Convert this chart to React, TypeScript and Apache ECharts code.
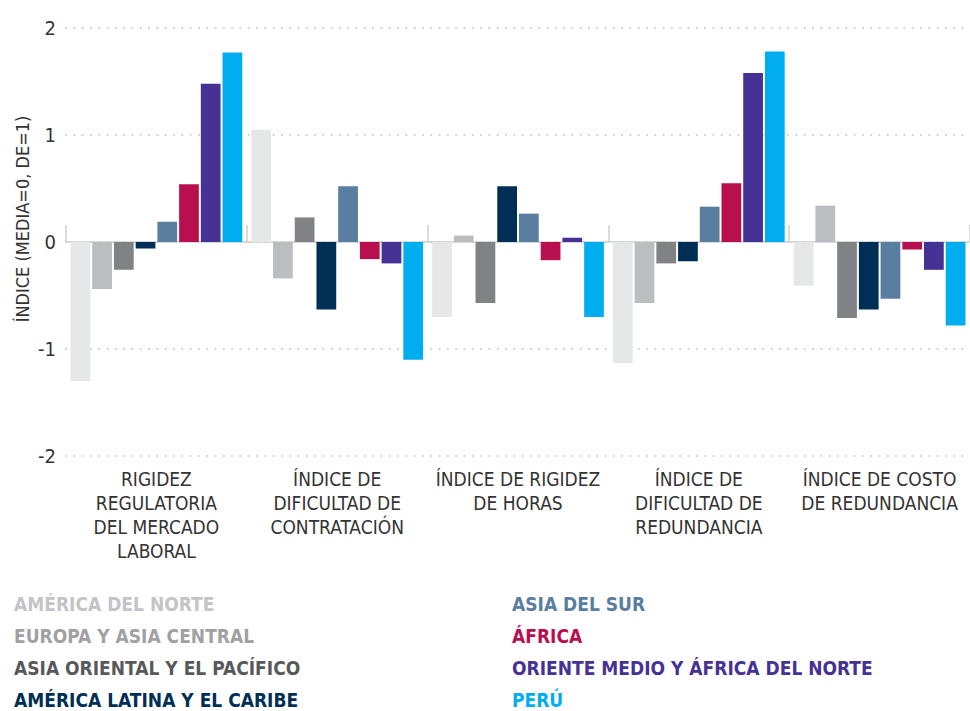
import React, { useEffect, useRef } from "react";
import * as echarts from "echarts";

const categories = [
  "RIGIDEZ\nREGULATORIA\nDEL MERCADO\nLABORAL",
  "ÍNDICE DE\nDIFICULTAD DE\nCONTRATACIÓN",
  "ÍNDICE DE RIGIDEZ\nDE HORAS",
  "ÍNDICE DE\nDIFICULTAD DE\nREDUNDANCIA",
  "ÍNDICE DE COSTO\nDE REDUNDANCIA",
];

const regions = [
  "AMÉRICA DEL NORTE",
  "EUROPA Y ASIA CENTRAL",
  "ASIA ORIENTAL Y EL PACÍFICO",
  "AMÉRICA LATINA Y EL CARIBE",
  "ASIA DEL SUR",
  "ÁFRICA",
  "ORIENTE MEDIO Y ÁFRICA DEL NORTE",
  "PERÚ",
];

const barColors = ["#e6e7e8", "#bcbdc0", "#808285", "#002f56", "#5a7ea0", "#b8104f", "#463294", "#00aeef"];
const legendColors = ["#c3c4c6", "#a0a1a3", "#58595b", "#002f56", "#5a7ea0", "#b8104f", "#463294", "#00aeef"];

const americaDelNorte = [-1.3, 1.05, -0.7, -1.13, -0.41];
const europaAsiaCentral = [-0.44, -0.34, 0.06, -0.57, 0.34];
const asiaOrientalPacifico = [-0.26, 0.23, -0.57, -0.2, -0.71];
const americaLatinaCaribe = [-0.06, -0.63, 0.52, -0.18, -0.63];
const asiaDelSur = [0.19, 0.52, 0.265, 0.33, -0.53];
const africa = [0.54, -0.16, -0.17, 0.55, -0.07];
const orienteMedioAfricaNorte = [1.48, -0.2, 0.04, 1.58, -0.26];
const peru = [1.77, -1.1, -0.7, 1.78, -0.78];

const seriesValues = [
  americaDelNorte,
  europaAsiaCentral,
  asiaOrientalPacifico,
  americaLatinaCaribe,
  asiaDelSur,
  africa,
  orienteMedioAfricaNorte,
  peru,
];

const yTicks = { min: -2, max: 2, interval: 1 };

const NARROW = "'DejaVu Sans Condensed', 'Liberation Sans Narrow', sans-serif";

export default function App() {
  const ref = useRef<HTMLDivElement>(null);

  useEffect(() => {
    document.body.style.margin = "0";
    if (!ref.current) return;
    const chart = echarts.init(ref.current, undefined, { renderer: "svg" });

    const legendItem = (i: number) => ({
      name: regions[i],
      textStyle: { color: legendColors[i] },
    });

    const legendCommon = {
      orient: "vertical" as const,
      top: 594,
      height: 130,
      itemWidth: 0,
      itemHeight: 0,
      itemGap: 12,
      padding: 0,
      selectedMode: false,
      textStyle: {
        fontFamily: NARROW,
        fontSize: 19,
        fontWeight: "bold",
        lineHeight: 20,
      },
    };

    chart.setOption({
      animation: false,
      backgroundColor: "#ffffff",
      grid: { left: 66, right: -8, top: 28, bottom: 255, containLabel: false },
      legend: [
        { ...legendCommon, left: 9, data: [0, 1, 2, 3].map(legendItem) },
        { ...legendCommon, left: 507, data: [4, 5, 6, 7].map(legendItem) },
      ],
      graphic: [
        {
          type: "text",
          x: 22,
          y: 219,
          rotation: Math.PI / 2,
          style: {
            text: "ÍNDICE (MEDIA=0, DE=1)",
            fontFamily: NARROW,
            fontSize: 18,
            fill: "#333333",
            textAlign: "center",
            textVerticalAlign: "middle",
          },
        },
      ],
      xAxis: [
        {
          type: "category",
          data: categories,
          position: "bottom",
          axisLine: { show: false, onZero: false },
          axisTick: { show: false },
          axisLabel: {
            interval: 0,
            margin: 11,
            fontFamily: NARROW,
            fontSize: 19,
            lineHeight: 24,
            color: "#333333",
            align: "center",
          },
        },
        {
          type: "category",
          data: categories,
          position: "bottom",
          axisLine: { show: true, onZero: true, lineStyle: { color: "#cdced0", width: 1.5 } },
          axisTick: { show: true, inside: true, length: 17, lineStyle: { color: "#cdced0", width: 1.5 } },
          axisLabel: { show: false },
        },
      ],
      yAxis: {
        type: "value",
        min: yTicks.min,
        max: yTicks.max,
        interval: yTicks.interval,
        axisLine: { show: false },
        axisTick: { show: false },
        axisLabel: {
          margin: 10,
          fontFamily: NARROW,
          fontSize: 20,
          color: "#333333",
        },
        splitLine: {
          show: true,
          lineStyle: { color: "#cfd0d2", width: 2.2, type: [0.1, 8.2], cap: "round" },
        },
      },
      series: regions.map((name, i) => ({
        name,
        type: "bar",
        xAxisIndex: 0,
        data: seriesValues[i],
        barGap: "10%",
        barCategoryGap: "5%",
        itemStyle: { color: barColors[i] },
      })),
    });

    return () => chart.dispose();
  }, []);

  return <div ref={ref} style={{ width: 970, height: 711 }} />;
}
